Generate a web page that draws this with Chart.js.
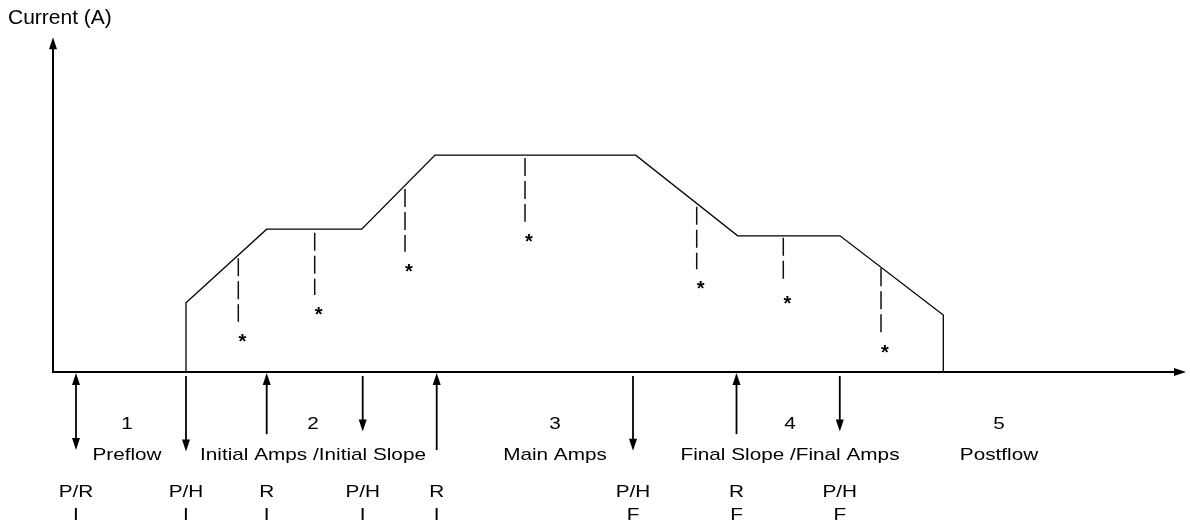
<!DOCTYPE html>
<html>
<head>
<meta charset="utf-8">
<script src="https://cdn.jsdelivr.net/npm/chart.js@4"></script>
<style>
  body { margin: 0; background: #fff; }
  canvas { display: block; }
</style>
</head>
<body>
<canvas id="profileChart" width="1190" height="523"></canvas>
<script>
// current profile (time units, current units)
const profileX = [5.7, 13.3, 13.3, 21.37, 30.87, 38.2, 58.27, 68.47, 78.7, 89.03, 89.03, 99.3];
const profileY = [0, 0, 18.6, 38.4, 38.4, 58.3, 58.3, 36.6, 36.6, 15.3, 0, 0];

// dashed "*" markers under the profile
const markX = [18.53, 26.17, 35.2, 47.2, 64.37, 73.03, 82.8];
const markTop = [30.6, 37.4, 49.2, 57.5, 44.4, 36.1, 27.9];
const markBottom = [13.5, 20.7, 32.3, 40.4, 27.6, 23.7, 10.6];

// switch events under the time axis
const eventX = [2.3, 13.3, 21.37, 30.97, 38.37, 58.0, 68.35, 78.68];
const eventDir = ['both', 'down', 'up', 'down', 'up', 'down', 'up', 'down'];
const eventEnd = [-21, -21.4, -16.7, -16, -21, -21.2, -16.7, -16];
const eventCode = ['P/R', 'P/H', 'R', 'P/H', 'R', 'P/H', 'R', 'P/H'];
const eventSub = ['I', 'I', 'I', 'I', 'I', 'F', 'F', 'F'];

// phases
const phaseX = [7.4, 26.0, 50.2, 73.7, 94.6];
const phaseNum = ['1', '2', '3', '4', '5'];
const phaseName = ['Preflow', 'Initial Amps /Initial Slope', 'Main Amps', 'Final Slope /Final Amps', 'Postflow'];

const axisTopY = 90;
const axisRightX = 113.3;
const FONT = "'Liberation Sans', Arial, sans-serif";

function arrowHead(ctx, px, py, dir) {
  const len = 12, half = 4;
  ctx.beginPath();
  ctx.moveTo(px, py);
  if (dir === 'up') { ctx.lineTo(px - half, py + len); ctx.lineTo(px + half, py + len); }
  if (dir === 'down') { ctx.lineTo(px - half, py - len); ctx.lineTo(px + half, py - len); }
  if (dir === 'right') { ctx.lineTo(px - len, py - half); ctx.lineTo(px - len, py + half); }
  ctx.closePath();
  ctx.fill();
}

function line(ctx, x1, y1, x2, y2) {
  ctx.beginPath();
  ctx.moveTo(x1, y1);
  ctx.lineTo(x2, y2);
  ctx.stroke();
}

function label(ctx, str, cx, by) {
  ctx.save();
  ctx.translate(cx, by);
  ctx.scale(1.22, 1);
  ctx.font = '17px ' + FONT;
  ctx.textAlign = 'center';
  ctx.textBaseline = 'alphabetic';
  ctx.fillText(str, 0, 0);
  ctx.restore();
}

const diagram = {
  id: 'diagram',
  afterDatasetsDraw(chart) {
    const { ctx, scales: { x, y } } = chart;
    const x0 = x.getPixelForValue(0);
    const y0 = y.getPixelForValue(0);
    ctx.save();
    ctx.strokeStyle = '#000';
    ctx.fillStyle = '#000';
    ctx.textBaseline = 'alphabetic';

    // axes
    ctx.lineWidth = 2;
    const yTop = y.getPixelForValue(axisTopY);
    const xRight = x.getPixelForValue(axisRightX);
    line(ctx, x0, y0 + 1, x0, yTop + 10);
    arrowHead(ctx, x0, yTop, 'up');
    line(ctx, x0, y0, xRight - 10, y0);
    arrowHead(ctx, xRight, y0, 'right');

    ctx.font = '21px ' + FONT;
    ctx.textAlign = 'left';
    ctx.fillText('Current (A)', 8, 24);

    // stars at the foot of the dashed markers
    ctx.font = 'bold 20px ' + FONT;
    ctx.textAlign = 'center';
    const m = ctx.measureText('*');
    const shift = (m.actualBoundingBoxAscent - m.actualBoundingBoxDescent) / 2;
    markX.forEach((v, i) => {
      const px = x.getPixelForValue(v) + 4;
      const py = y.getPixelForValue(markBottom[i]) + 16;
      ctx.fillText('*', px, py + shift);
    });

    // event arrows
    ctx.lineWidth = 1.8;
    eventX.forEach((v, i) => {
      const px = x.getPixelForValue(v);
      const pEnd = y.getPixelForValue(eventEnd[i]);
      const dir = eventDir[i];
      const start = dir === 'down' ? y0 + 4 : y0 + 1;
      line(ctx, px, dir === 'down' ? start : start + 8, px, dir === 'up' ? pEnd : pEnd - 8);
      if (dir === 'up' || dir === 'both') arrowHead(ctx, px, start, 'up');
      if (dir === 'down' || dir === 'both') arrowHead(ctx, px, pEnd, 'down');
      label(ctx, eventCode[i], px, y0 + 125);
      label(ctx, eventSub[i], px, y0 + 148);
    });

    phaseX.forEach((v, i) => {
      const px = x.getPixelForValue(v);
      label(ctx, phaseNum[i], px, y0 + 57);
      label(ctx, phaseName[i], px, y0 + 88);
    });
    ctx.restore();
  }
};

const datasets = [{
  data: profileX.map((v, i) => ({ x: v, y: profileY[i] })),
  showLine: true,
  borderColor: '#000',
  borderWidth: 1.3,
  pointRadius: 0,
  tension: 0
}];
markX.forEach((v, i) => {
  datasets.push({
    data: [{ x: v, y: markTop[i] }, { x: v, y: markBottom[i] }],
    showLine: true,
    borderColor: '#111',
    borderWidth: 1.5,
    borderDash: [18, 5],
    pointRadius: 0
  });
});

const ctx = document.getElementById('profileChart').getContext('2d');
new Chart(ctx, {
  type: 'scatter',
  data: { datasets: datasets },
  options: {
    responsive: false,
    animation: false,
    layout: { padding: 0, autoPadding: false },
    plugins: {
      legend: { display: false },
      tooltip: { enabled: false }
    },
    scales: {
      x: { type: 'linear', display: false, min: -5.3, max: 113.7 },
      y: { type: 'linear', display: false, min: -40.59, max: 100 }
    }
  },
  plugins: [diagram]
});
</script>
</body>
</html>
